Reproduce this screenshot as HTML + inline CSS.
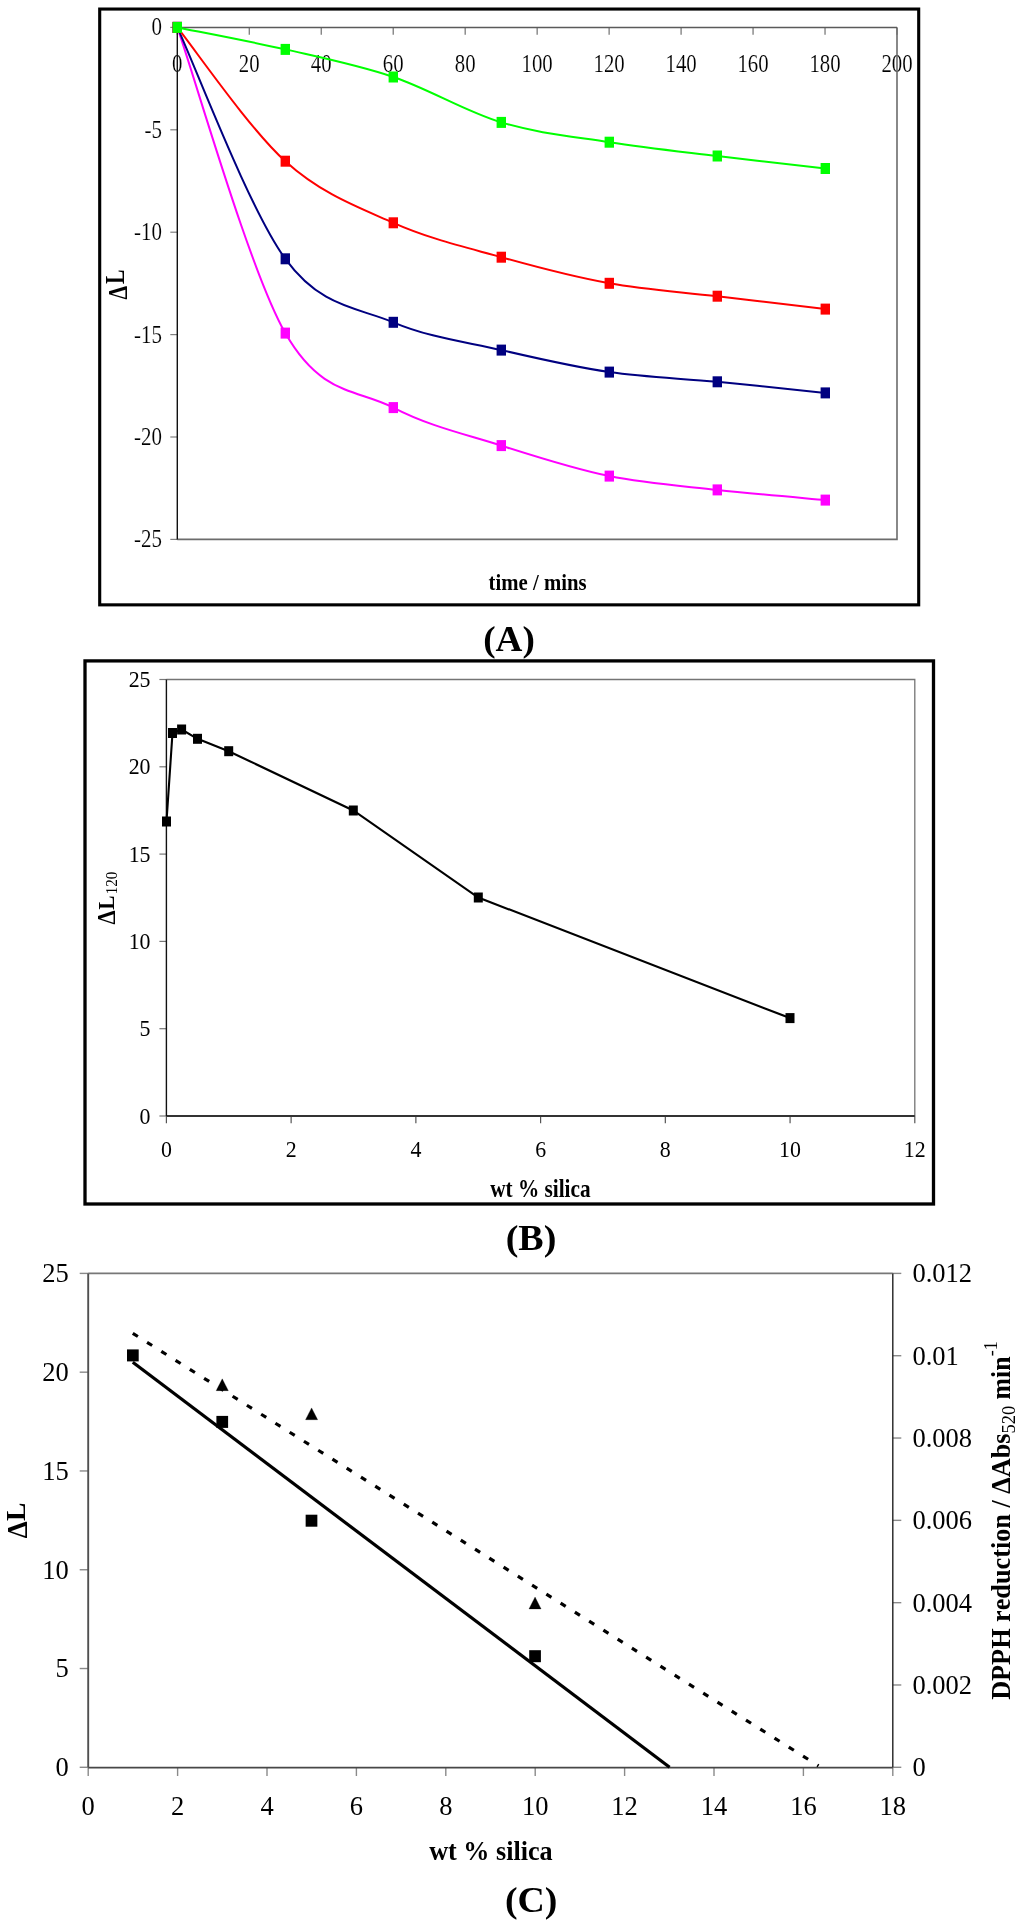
<!DOCTYPE html><html><head><meta charset="utf-8"><style>html,body{margin:0;padding:0;background:#fff;width:1024px;height:1925px;overflow:hidden}svg{display:block}text{font-family:"Liberation Serif",serif;font-kerning:none;filter:grayscale(1)}.t{stroke:#fff;stroke-width:0.15px}</style></head><body>
<svg width="1024" height="1925" viewBox="0 0 1024 1925">
<rect width="1024" height="1925" fill="#fff"/>
<text class="t" transform="translate(172.10,72.30) scale(0.8000,1)" font-size="26.00" font-weight="normal">0</text>
<text class="t" transform="translate(238.87,72.30) scale(0.8000,1)" font-size="26.00" font-weight="normal">20</text>
<text class="t" transform="translate(310.84,72.30) scale(0.8000,1)" font-size="26.00" font-weight="normal">40</text>
<text class="t" transform="translate(382.81,72.30) scale(0.8000,1)" font-size="26.00" font-weight="normal">60</text>
<text class="t" transform="translate(454.78,72.30) scale(0.8000,1)" font-size="26.00" font-weight="normal">80</text>
<text class="t" transform="translate(521.55,72.30) scale(0.8000,1)" font-size="26.00" font-weight="normal">100</text>
<text class="t" transform="translate(593.52,72.30) scale(0.8000,1)" font-size="26.00" font-weight="normal">120</text>
<text class="t" transform="translate(665.49,72.30) scale(0.8000,1)" font-size="26.00" font-weight="normal">140</text>
<text class="t" transform="translate(737.46,72.30) scale(0.8000,1)" font-size="26.00" font-weight="normal">160</text>
<text class="t" transform="translate(809.43,72.30) scale(0.8000,1)" font-size="26.00" font-weight="normal">180</text>
<text class="t" transform="translate(881.40,72.30) scale(0.8000,1)" font-size="26.00" font-weight="normal">200</text>
<text class="t" transform="translate(151.52,35.40) scale(0.8000,1)" font-size="26.20" font-weight="normal">0</text>
<text class="t" transform="translate(144.56,137.80) scale(0.8000,1)" font-size="26.20" font-weight="normal">-5</text>
<text class="t" transform="translate(134.06,240.20) scale(0.8000,1)" font-size="26.20" font-weight="normal">-10</text>
<text class="t" transform="translate(134.08,342.60) scale(0.8000,1)" font-size="26.20" font-weight="normal">-15</text>
<text class="t" transform="translate(134.06,445.00) scale(0.8000,1)" font-size="26.20" font-weight="normal">-20</text>
<text class="t" transform="translate(134.08,547.40) scale(0.8000,1)" font-size="26.20" font-weight="normal">-25</text>
<text transform="translate(126.60,299.50) rotate(-90) scale(0.8064,1)" font-size="27.04" font-weight="bold">Δ</text>
<text transform="translate(124.20,283.97) rotate(-90) scale(0.8266,1)" font-size="26.27" font-weight="bold">L</text>
<text transform="translate(488.57,589.98) scale(0.9028,1)" font-size="23.02" font-weight="bold" fill="#000">time / mins</text>
<text transform="translate(483.16,651.48) scale(1.0135,1)" font-size="36.73" font-weight="bold" fill="#000">(A)</text>
<rect x="99.7" y="9.05" width="819" height="595.8" fill="none" stroke="#000" stroke-width="3.1"/>
<path d="M897.0,27.4 V539.4 H177.3" fill="none" stroke="#6c6c6c" stroke-width="1.6"/>
<line x1="177.30" y1="27.4" x2="177.30" y2="34.699999999999996" stroke="#707070" stroke-width="1.2"/>
<line x1="249.27" y1="27.4" x2="249.27" y2="34.699999999999996" stroke="#707070" stroke-width="1.2"/>
<line x1="321.24" y1="27.4" x2="321.24" y2="34.699999999999996" stroke="#707070" stroke-width="1.2"/>
<line x1="393.21" y1="27.4" x2="393.21" y2="34.699999999999996" stroke="#707070" stroke-width="1.2"/>
<line x1="465.18" y1="27.4" x2="465.18" y2="34.699999999999996" stroke="#707070" stroke-width="1.2"/>
<line x1="537.15" y1="27.4" x2="537.15" y2="34.699999999999996" stroke="#707070" stroke-width="1.2"/>
<line x1="609.12" y1="27.4" x2="609.12" y2="34.699999999999996" stroke="#707070" stroke-width="1.2"/>
<line x1="681.09" y1="27.4" x2="681.09" y2="34.699999999999996" stroke="#707070" stroke-width="1.2"/>
<line x1="753.06" y1="27.4" x2="753.06" y2="34.699999999999996" stroke="#707070" stroke-width="1.2"/>
<line x1="825.03" y1="27.4" x2="825.03" y2="34.699999999999996" stroke="#707070" stroke-width="1.2"/>
<line x1="897.00" y1="27.4" x2="897.00" y2="34.699999999999996" stroke="#707070" stroke-width="1.2"/>
<line x1="170.3" y1="27.40" x2="177.3" y2="27.40" stroke="#808080" stroke-width="1.2"/>
<line x1="170.3" y1="129.80" x2="177.3" y2="129.80" stroke="#808080" stroke-width="1.2"/>
<line x1="170.3" y1="232.20" x2="177.3" y2="232.20" stroke="#808080" stroke-width="1.2"/>
<line x1="170.3" y1="334.60" x2="177.3" y2="334.60" stroke="#808080" stroke-width="1.2"/>
<line x1="170.3" y1="437.00" x2="177.3" y2="437.00" stroke="#808080" stroke-width="1.2"/>
<line x1="170.3" y1="539.40" x2="177.3" y2="539.40" stroke="#808080" stroke-width="1.2"/>
<line x1="177.3" y1="27.4" x2="897.0" y2="27.4" stroke="#5a5a5a" stroke-width="1.5"/>
<line x1="177.3" y1="27.4" x2="177.3" y2="539.4" stroke="#111" stroke-width="1.4"/>
<path d="M177.30,27.40 C195.30,78.35 249.30,269.73 285.30,333.10 C321.30,396.47 357.30,388.85 393.30,407.60 C429.30,426.35 465.30,434.18 501.30,445.60 C537.30,457.02 573.30,468.72 609.30,476.10 C645.30,483.48 681.30,485.90 717.30,489.90 C753.30,493.90 807.30,498.40 825.30,500.10" fill="none" stroke="#ff00ff" stroke-width="2.0"/>
<path d="M177.30,27.40 C195.30,65.97 249.30,209.65 285.30,258.80 C321.30,307.95 357.30,307.08 393.30,322.30 C429.30,337.52 465.30,341.80 501.30,350.10 C537.30,358.40 573.30,366.82 609.30,372.10 C645.30,377.38 681.30,378.33 717.30,381.80 C753.30,385.27 807.30,391.05 825.30,392.90" fill="none" stroke="#000080" stroke-width="2.0"/>
<path d="M177.30,27.40 C195.30,49.70 249.30,128.63 285.30,161.20 C321.30,193.77 357.30,206.80 393.30,222.80 C429.30,238.80 465.30,247.12 501.30,257.20 C537.30,267.28 573.30,276.80 609.30,283.30 C645.30,289.80 681.30,291.90 717.30,296.20 C753.30,300.50 807.30,306.95 825.30,309.10" fill="none" stroke="#ff0000" stroke-width="2.0"/>
<path d="M177.30,27.40 C195.30,31.07 249.30,41.13 285.30,49.40 C321.30,57.67 357.30,64.83 393.30,77.00 C429.30,89.17 465.30,111.53 501.30,122.40 C537.30,133.27 573.30,136.60 609.30,142.20 C645.30,147.80 681.30,151.62 717.30,156.00 C753.30,160.38 807.30,166.42 825.30,168.50" fill="none" stroke="#00ff00" stroke-width="2.0"/>
<rect x="172.60" y="21.90" width="9.4" height="11" fill="#ff00ff"/>
<rect x="280.60" y="327.60" width="9.4" height="11" fill="#ff00ff"/>
<rect x="388.60" y="402.10" width="9.4" height="11" fill="#ff00ff"/>
<rect x="496.60" y="440.10" width="9.4" height="11" fill="#ff00ff"/>
<rect x="604.60" y="470.60" width="9.4" height="11" fill="#ff00ff"/>
<rect x="712.60" y="484.40" width="9.4" height="11" fill="#ff00ff"/>
<rect x="820.60" y="494.60" width="9.4" height="11" fill="#ff00ff"/>
<rect x="172.60" y="21.90" width="9.4" height="11" fill="#000080"/>
<rect x="280.60" y="253.30" width="9.4" height="11" fill="#000080"/>
<rect x="388.60" y="316.80" width="9.4" height="11" fill="#000080"/>
<rect x="496.60" y="344.60" width="9.4" height="11" fill="#000080"/>
<rect x="604.60" y="366.60" width="9.4" height="11" fill="#000080"/>
<rect x="712.60" y="376.30" width="9.4" height="11" fill="#000080"/>
<rect x="820.60" y="387.40" width="9.4" height="11" fill="#000080"/>
<rect x="172.60" y="21.90" width="9.4" height="11" fill="#ff0000"/>
<rect x="280.60" y="155.70" width="9.4" height="11" fill="#ff0000"/>
<rect x="388.60" y="217.30" width="9.4" height="11" fill="#ff0000"/>
<rect x="496.60" y="251.70" width="9.4" height="11" fill="#ff0000"/>
<rect x="604.60" y="277.80" width="9.4" height="11" fill="#ff0000"/>
<rect x="712.60" y="290.70" width="9.4" height="11" fill="#ff0000"/>
<rect x="820.60" y="303.60" width="9.4" height="11" fill="#ff0000"/>
<rect x="172.60" y="21.90" width="9.4" height="11" fill="#00ff00"/>
<rect x="280.60" y="43.90" width="9.4" height="11" fill="#00ff00"/>
<rect x="388.60" y="71.50" width="9.4" height="11" fill="#00ff00"/>
<rect x="496.60" y="116.90" width="9.4" height="11" fill="#00ff00"/>
<rect x="604.60" y="136.70" width="9.4" height="11" fill="#00ff00"/>
<rect x="712.60" y="150.50" width="9.4" height="11" fill="#00ff00"/>
<rect x="820.60" y="163.00" width="9.4" height="11" fill="#00ff00"/>
<text transform="translate(160.93,1157.40) scale(0.9600,1)" font-size="22.80" font-weight="normal">0</text>
<text transform="translate(285.66,1157.40) scale(0.9600,1)" font-size="22.80" font-weight="normal">2</text>
<text transform="translate(410.39,1157.40) scale(0.9600,1)" font-size="22.80" font-weight="normal">4</text>
<text transform="translate(535.13,1157.40) scale(0.9600,1)" font-size="22.80" font-weight="normal">6</text>
<text transform="translate(659.86,1157.40) scale(0.9600,1)" font-size="22.80" font-weight="normal">8</text>
<text transform="translate(779.12,1157.40) scale(0.9600,1)" font-size="22.80" font-weight="normal">10</text>
<text transform="translate(903.86,1157.40) scale(0.9600,1)" font-size="22.80" font-weight="normal">12</text>
<text transform="translate(139.59,1123.60) scale(0.9600,1)" font-size="22.80" font-weight="normal">0</text>
<text transform="translate(139.61,1036.30) scale(0.9600,1)" font-size="22.80" font-weight="normal">5</text>
<text transform="translate(128.65,949.00) scale(0.9600,1)" font-size="22.80" font-weight="normal">10</text>
<text transform="translate(128.67,861.70) scale(0.9600,1)" font-size="22.80" font-weight="normal">15</text>
<text transform="translate(128.65,774.40) scale(0.9600,1)" font-size="22.80" font-weight="normal">20</text>
<text transform="translate(128.67,687.10) scale(0.9600,1)" font-size="22.80" font-weight="normal">25</text>
<text transform="translate(115.30,924.41) rotate(-90) scale(0.9115,1)" font-size="24.84" font-weight="bold">Δ</text>
<text transform="translate(113.75,909.67) rotate(-90) scale(0.9005,1)" font-size="23.75" font-weight="bold">L</text>
<text transform="translate(117.45,894.32) rotate(-90) scale(0.9591,1)" font-size="15.71" font-weight="normal">120</text>
<text transform="translate(490.14,1196.80) scale(0.8737,1)" font-size="24.36" font-weight="bold" fill="#000">wt % silica</text>
<text transform="translate(505.63,1249.58) scale(1.0492,1)" font-size="36.28" font-weight="bold" fill="#000">(B)</text>
<rect x="85.0" y="660.9" width="848.5" height="543.1" fill="none" stroke="#000" stroke-width="3.3"/>
<path d="M166.4,679.5 H914.8 V1116.0" fill="none" stroke="#747474" stroke-width="1.3"/>
<line x1="166.40" y1="1116.0" x2="166.40" y2="1123.3" stroke="#555" stroke-width="1.2"/>
<line x1="291.13" y1="1116.0" x2="291.13" y2="1123.3" stroke="#555" stroke-width="1.2"/>
<line x1="415.87" y1="1116.0" x2="415.87" y2="1123.3" stroke="#555" stroke-width="1.2"/>
<line x1="540.60" y1="1116.0" x2="540.60" y2="1123.3" stroke="#555" stroke-width="1.2"/>
<line x1="665.33" y1="1116.0" x2="665.33" y2="1123.3" stroke="#555" stroke-width="1.2"/>
<line x1="790.07" y1="1116.0" x2="790.07" y2="1123.3" stroke="#555" stroke-width="1.2"/>
<line x1="914.80" y1="1116.0" x2="914.80" y2="1123.3" stroke="#555" stroke-width="1.2"/>
<line x1="159.4" y1="1116.00" x2="166.4" y2="1116.00" stroke="#777" stroke-width="1.2"/>
<line x1="159.4" y1="1028.70" x2="166.4" y2="1028.70" stroke="#777" stroke-width="1.2"/>
<line x1="159.4" y1="941.40" x2="166.4" y2="941.40" stroke="#777" stroke-width="1.2"/>
<line x1="159.4" y1="854.10" x2="166.4" y2="854.10" stroke="#777" stroke-width="1.2"/>
<line x1="159.4" y1="766.80" x2="166.4" y2="766.80" stroke="#777" stroke-width="1.2"/>
<line x1="159.4" y1="679.50" x2="166.4" y2="679.50" stroke="#777" stroke-width="1.2"/>
<line x1="166.4" y1="1116.0" x2="914.8" y2="1116.0" stroke="#333" stroke-width="1.8"/>
<line x1="166.4" y1="679.5" x2="166.4" y2="1116.0" stroke="#111" stroke-width="1.4"/>
<polyline points="166.5,821.5 172.5,733.0 181.6,729.5 197.5,738.8 228.7,751.2 353.3,810.5 478.3,897.5 790.0,1018.1" fill="none" stroke="#000" stroke-width="2.1"/>
<rect x="162.00" y="816.50" width="9" height="10" fill="#000"/>
<rect x="168.00" y="728.00" width="9" height="10" fill="#000"/>
<rect x="177.10" y="724.50" width="9" height="10" fill="#000"/>
<rect x="193.00" y="733.80" width="9" height="10" fill="#000"/>
<rect x="224.20" y="746.20" width="9" height="10" fill="#000"/>
<rect x="348.80" y="805.50" width="9" height="10" fill="#000"/>
<rect x="473.80" y="892.50" width="9" height="10" fill="#000"/>
<rect x="785.50" y="1013.10" width="9" height="10" fill="#000"/>
<text transform="translate(81.58,1815.30) scale(1.0000,1)" font-size="26.50" font-weight="normal">0</text>
<text transform="translate(170.97,1815.30) scale(1.0000,1)" font-size="26.50" font-weight="normal">2</text>
<text transform="translate(260.38,1815.30) scale(1.0000,1)" font-size="26.50" font-weight="normal">4</text>
<text transform="translate(349.77,1815.30) scale(1.0000,1)" font-size="26.50" font-weight="normal">6</text>
<text transform="translate(439.17,1815.30) scale(1.0000,1)" font-size="26.50" font-weight="normal">8</text>
<text transform="translate(521.95,1815.30) scale(1.0000,1)" font-size="26.50" font-weight="normal">10</text>
<text transform="translate(611.35,1815.30) scale(1.0000,1)" font-size="26.50" font-weight="normal">12</text>
<text transform="translate(700.75,1815.30) scale(1.0000,1)" font-size="26.50" font-weight="normal">14</text>
<text transform="translate(790.15,1815.30) scale(1.0000,1)" font-size="26.50" font-weight="normal">16</text>
<text transform="translate(879.55,1815.30) scale(1.0000,1)" font-size="26.50" font-weight="normal">18</text>
<text transform="translate(55.56,1776.20) scale(1.0000,1)" font-size="26.50" font-weight="normal">0</text>
<text transform="translate(55.59,1677.42) scale(1.0000,1)" font-size="26.50" font-weight="normal">5</text>
<text transform="translate(42.31,1578.64) scale(1.0000,1)" font-size="26.50" font-weight="normal">10</text>
<text transform="translate(42.34,1479.86) scale(1.0000,1)" font-size="26.50" font-weight="normal">15</text>
<text transform="translate(42.31,1381.08) scale(1.0000,1)" font-size="26.50" font-weight="normal">20</text>
<text transform="translate(42.34,1282.30) scale(1.0000,1)" font-size="26.50" font-weight="normal">25</text>
<text transform="translate(912.39,1776.20) scale(1.0000,1)" font-size="26.50" font-weight="normal">0</text>
<text transform="translate(912.39,1693.88) scale(1.0000,1)" font-size="26.50" font-weight="normal">0.002</text>
<text transform="translate(912.39,1611.57) scale(1.0000,1)" font-size="26.50" font-weight="normal">0.004</text>
<text transform="translate(912.39,1529.25) scale(1.0000,1)" font-size="26.50" font-weight="normal">0.006</text>
<text transform="translate(912.39,1446.93) scale(1.0000,1)" font-size="26.50" font-weight="normal">0.008</text>
<text transform="translate(912.39,1364.62) scale(1.0000,1)" font-size="26.50" font-weight="normal">0.01</text>
<text transform="translate(912.39,1282.30) scale(1.0000,1)" font-size="26.50" font-weight="normal">0.012</text>
<text transform="translate(27.10,1538.37) rotate(-90) scale(0.9441,1)" font-size="28.78" font-weight="bold">Δ</text>
<text transform="translate(24.60,1521.07) rotate(-90) scale(0.9829,1)" font-size="27.95" font-weight="bold">L</text>
<text transform="translate(1010.00,1699.86) rotate(-90) scale(0.9720,1)" font-size="27.00" font-weight="bold">DPPH reduction / ΔAbs</text>
<text transform="translate(1015.00,1433.58) rotate(-90) scale(1.0405,1)" font-size="17.80" font-weight="normal">520</text>
<text transform="translate(1010.00,1399.49) rotate(-90) scale(0.9550,1)" font-size="27.00" font-weight="bold">min</text>
<text transform="translate(996.70,1356.27) rotate(-90) scale(1.0154,1)" font-size="17.80" font-weight="normal">-1</text>
<text transform="translate(429.22,1860.10) scale(0.9703,1)" font-size="26.95" font-weight="bold" fill="#000">wt % silica</text>
<text transform="translate(504.94,1911.70) scale(1.0460,1)" font-size="36.17" font-weight="bold" fill="#000">(C)</text>
<line x1="79.7" y1="1767.30" x2="88.2" y2="1767.30" stroke="#8a8a8a" stroke-width="1.4"/>
<line x1="79.7" y1="1668.52" x2="88.2" y2="1668.52" stroke="#8a8a8a" stroke-width="1.4"/>
<line x1="79.7" y1="1569.74" x2="88.2" y2="1569.74" stroke="#8a8a8a" stroke-width="1.4"/>
<line x1="79.7" y1="1470.96" x2="88.2" y2="1470.96" stroke="#8a8a8a" stroke-width="1.4"/>
<line x1="79.7" y1="1372.18" x2="88.2" y2="1372.18" stroke="#8a8a8a" stroke-width="1.4"/>
<line x1="79.7" y1="1273.40" x2="88.2" y2="1273.40" stroke="#8a8a8a" stroke-width="1.4"/>
<line x1="892.8" y1="1767.30" x2="901.3" y2="1767.30" stroke="#8a8a8a" stroke-width="1.4"/>
<line x1="892.8" y1="1684.98" x2="901.3" y2="1684.98" stroke="#8a8a8a" stroke-width="1.4"/>
<line x1="892.8" y1="1602.67" x2="901.3" y2="1602.67" stroke="#8a8a8a" stroke-width="1.4"/>
<line x1="892.8" y1="1520.35" x2="901.3" y2="1520.35" stroke="#8a8a8a" stroke-width="1.4"/>
<line x1="892.8" y1="1438.03" x2="901.3" y2="1438.03" stroke="#8a8a8a" stroke-width="1.4"/>
<line x1="892.8" y1="1355.72" x2="901.3" y2="1355.72" stroke="#8a8a8a" stroke-width="1.4"/>
<line x1="892.8" y1="1273.40" x2="901.3" y2="1273.40" stroke="#8a8a8a" stroke-width="1.4"/>
<line x1="88.20" y1="1767.3" x2="88.20" y2="1776.0" stroke="#8a8a8a" stroke-width="1.4"/>
<line x1="177.60" y1="1767.3" x2="177.60" y2="1776.0" stroke="#8a8a8a" stroke-width="1.4"/>
<line x1="267.00" y1="1767.3" x2="267.00" y2="1776.0" stroke="#8a8a8a" stroke-width="1.4"/>
<line x1="356.40" y1="1767.3" x2="356.40" y2="1776.0" stroke="#8a8a8a" stroke-width="1.4"/>
<line x1="445.80" y1="1767.3" x2="445.80" y2="1776.0" stroke="#8a8a8a" stroke-width="1.4"/>
<line x1="535.20" y1="1767.3" x2="535.20" y2="1776.0" stroke="#8a8a8a" stroke-width="1.4"/>
<line x1="624.60" y1="1767.3" x2="624.60" y2="1776.0" stroke="#8a8a8a" stroke-width="1.4"/>
<line x1="714.00" y1="1767.3" x2="714.00" y2="1776.0" stroke="#8a8a8a" stroke-width="1.4"/>
<line x1="803.40" y1="1767.3" x2="803.40" y2="1776.0" stroke="#8a8a8a" stroke-width="1.4"/>
<line x1="892.80" y1="1767.3" x2="892.80" y2="1776.0" stroke="#8a8a8a" stroke-width="1.4"/>
<line x1="88.2" y1="1273.4" x2="892.8" y2="1273.4" stroke="#777" stroke-width="1.8"/>
<line x1="88.2" y1="1767.6" x2="892.8" y2="1767.6" stroke="#474747" stroke-width="1.9"/>
<line x1="88.2" y1="1273.4" x2="88.2" y2="1767.3" stroke="#505050" stroke-width="1.9"/>
<line x1="892.8" y1="1273.4" x2="892.8" y2="1767.3" stroke="#222" stroke-width="1.4"/>
<line x1="132.8" y1="1362.3" x2="669.6" y2="1767.2" stroke="#000" stroke-width="3.2"/>
<line x1="132.8" y1="1333.3" x2="818.5" y2="1765.8" stroke="#000" stroke-width="3.2" stroke-dasharray="6 10.86"/>
<rect x="127.00" y="1349.40" width="11.7" height="12.0" fill="#000"/>
<rect x="216.40" y="1415.90" width="11.7" height="12.0" fill="#000"/>
<rect x="305.65" y="1514.70" width="11.7" height="12.0" fill="#000"/>
<rect x="529.20" y="1650.20" width="11.7" height="12.0" fill="#000"/>
<path d="M222.25,1378.85 L228.30,1390.65 L216.20,1390.65 Z" fill="#000" stroke="#000" stroke-width="0.3" stroke-linejoin="round"/>
<path d="M311.60,1407.90 L317.65,1419.70 L305.55,1419.70 Z" fill="#000" stroke="#000" stroke-width="0.3" stroke-linejoin="round"/>
<path d="M535.05,1597.10 L541.10,1608.90 L529.00,1608.90 Z" fill="#000" stroke="#000" stroke-width="0.3" stroke-linejoin="round"/>
</svg></body></html>
